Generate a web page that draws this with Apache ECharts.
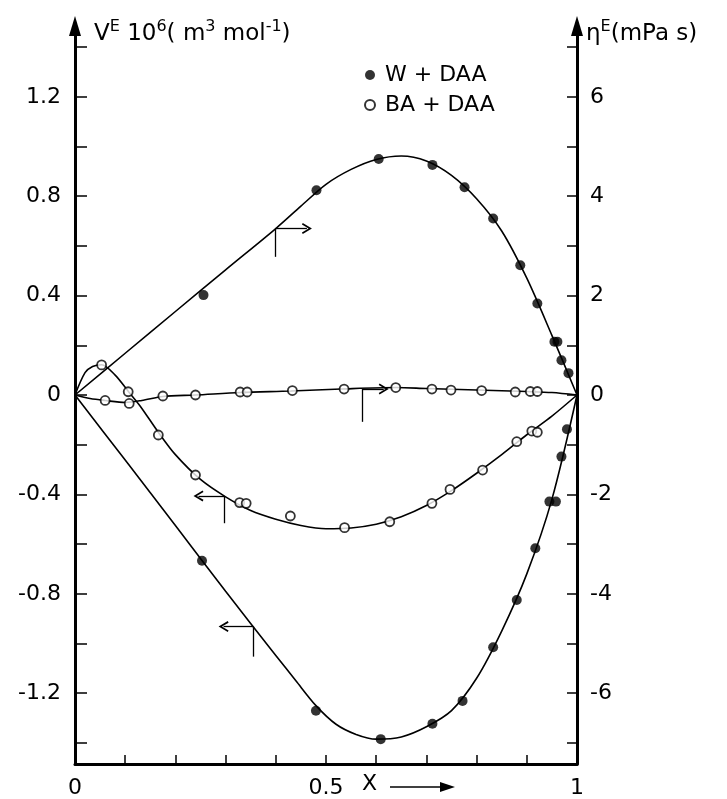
<!DOCTYPE html>
<html>
<head>
<meta charset="utf-8">
<script src="https://cdn.jsdelivr.net/npm/echarts@6/dist/echarts.min.js"></script>
<style>
html, body { margin: 0; padding: 0; background: #fff; }
#main { width: 727px; height: 799px; }
</style>
</head>
<body>
<div id="main"></div>
<script>
var dom = document.getElementById("main");
var myChart = echarts.init(dom);
var font = '"DejaVu Sans", "Liberation Sans", sans-serif';

// measured points [x, value] ; eta in mPa s (right axis), V in 10^6 m3/mol (left axis)
var wEtaPts = [[0.256, 2.01], [0.481, 4.12], [0.605, 4.75], [0.712, 4.63], [0.776, 4.18],
	[0.833, 3.55], [0.887, 2.61], [0.921, 1.84], [0.955, 1.07], [0.961, 1.07], [0.969, 0.70], [0.983, 0.44]];
var wVPts = [[0.253, -0.667], [0.48, -1.271], [0.609, -1.385], [0.712, -1.323], [0.772, -1.231],
	[0.833, -1.015], [0.88, -0.825], [0.917, -0.617], [0.945, -0.429], [0.958, -0.429], [0.969, -0.248], [0.98, -0.138]];
var baEtaPts = [[0.06, -0.11], [0.108, -0.17], [0.175, -0.02], [0.24, 0], [0.329, 0.06], [0.343, 0.06],
	[0.433, 0.09], [0.536, 0.12], [0.639, 0.15], [0.711, 0.12], [0.749, 0.10], [0.81, 0.09], [0.877, 0.06], [0.907, 0.07], [0.921, 0.07]];
var baVPts = [[0.053, 0.121], [0.106, 0.013], [0.166, -0.161], [0.24, -0.322], [0.328, -0.433], [0.341, -0.436],
	[0.429, -0.487], [0.537, -0.534], [0.627, -0.51], [0.711, -0.436], [0.747, -0.38], [0.812, -0.302], [0.88, -0.188], [0.91, -0.145], [0.921, -0.15]];

// fitted curves
var wEtaCurve = [[0, 0], [0.1, 0.84], [0.2, 1.68], [0.3, 2.52], [0.4, 3.35], [0.45, 3.8], [0.5, 4.24],
	[0.55, 4.54], [0.6, 4.74], [0.65, 4.81], [0.7, 4.71], [0.75, 4.42], [0.8, 3.95], [0.85, 3.3], [0.9, 2.35],
	[0.95, 1.2], [1, 0]];
var wVCurve = [[0, 0], [0.1, -0.262], [0.2, -0.525], [0.3, -0.79], [0.4, -1.048], [0.44, -1.15], [0.48, -1.25],
	[0.52, -1.325], [0.56, -1.366], [0.6, -1.385], [0.65, -1.376], [0.7, -1.335], [0.75, -1.27], [0.8, -1.14],
	[0.85, -0.95], [0.9, -0.72], [0.95, -0.42], [1, 0]];
var baEtaCurve = [[0, 0], [0.03, -0.07], [0.06, -0.11], [0.1, -0.15], [0.133, -0.11], [0.175, -0.03], [0.24, 0],
	[0.33, 0.05], [0.43, 0.08], [0.53, 0.12], [0.64, 0.15], [0.7, 0.13], [0.8, 0.1], [0.9, 0.07], [0.95, 0.05], [1, 0]];
var baVCurve = [[0, 0], [0.02, 0.09], [0.035, 0.115], [0.053, 0.122], [0.08, 0.08], [0.106, 0.015], [0.13, -0.045],
	[0.166, -0.15], [0.2, -0.24], [0.25, -0.34], [0.3, -0.41], [0.35, -0.465], [0.4, -0.5], [0.45, -0.525],
	[0.5, -0.538], [0.55, -0.535], [0.6, -0.52], [0.65, -0.49], [0.7, -0.445], [0.75, -0.385], [0.8, -0.315],
	[0.85, -0.24], [0.9, -0.16], [0.95, -0.085], [1, 0]];

// axis ticks
var xTicks = [0, 0.1, 0.2, 0.3, 0.4, 0.5, 0.6, 0.7, 0.8, 0.9, 1];
var xLabels = [0, 0.5, 1];
var vTicks = [-1.4, -1.2, -1, -0.8, -0.6, -0.4, -0.2, 0, 0.2, 0.4, 0.6, 0.8, 1, 1.2, 1.4];
var vLabels = [-1.2, -0.8, -0.4, 0, 0.4, 0.8, 1.2];
var etaTicks = [-7, -6, -5, -4, -3, -2, -1, 0, 1, 2, 3, 4, 5, 6, 7];
var etaLabels = [-6, -4, -2, 0, 2, 4, 6];

// axis indicator marks: [corner, arrow end, foot]
var wEtaMark = [[0.399, 3.35], [0.462, 3.35], [0.399, 2.78]];
var wVMark = [[0.355, -0.932], [0.296, -0.932], [0.355, -1.053]];
var baEtaMark = [[0.572, 0.12], [0.615, 0.12], [0.572, -0.54]];
var baVMark = [[0.297, -0.406], [0.246, -0.406], [0.297, -0.516]];

var chevron = 'path://M0,11 L6,0 L12,11 L10.3,12 L6,4 L1.7,12 Z';
function marker(m) {
	return {
		silent: true,
		animation: false,
		label: { show: false },
		lineStyle: { color: '#000', width: 1.3, type: 'solid' },
		symbolSize: [11, 10],
		data: [
			[{ coord: m[0], symbol: 'none' }, { coord: m[1], symbol: chevron }],
			[{ coord: m[0], symbol: 'none' }, { coord: m[2], symbol: 'none' }]
		]
	};
}

function curve(name, data, axis, mark) {
	return {
		name: name,
		type: 'line',
		yAxisIndex: axis,
		data: data,
		smooth: 0.3,
		showSymbol: false,
		silent: true,
		lineStyle: { color: '#000', width: 1.6 },
		markLine: marker(mark),
		z: 2
	};
}

function points(name, data, axis, filled) {
	return {
		name: name,
		type: 'scatter',
		yAxisIndex: axis,
		data: data,
		symbol: 'circle',
		symbolSize: filled ? 10 : 9,
		itemStyle: filled ? { color: '#000' } : { color: '#fff', borderColor: '#000', borderWidth: 1.8 },
		z: 3
	};
}

var axisCommon = {
	type: 'value',
	splitLine: { show: false },
	axisLine: { show: true, onZero: false, lineStyle: { color: '#000', width: 3 } },
	axisTick: { show: true, inside: true, length: 11, lineStyle: { color: '#000', width: 1.5 } },
	axisLabel: { color: '#000', fontSize: 22, fontFamily: font }
};

var rich = {
	b: { fontSize: 23, fontFamily: font, fill: '#000' },
	s: { fontSize: 16, fontFamily: font, fill: '#000', padding: [0, 0, 14, 0] }
};

option = {
	backgroundColor: '#fff',
	animation: false,
	grid: { left: 75, right: 150, top: 26, bottom: 35, containLabel: false },
	legend: {
		data: ['W+DAA', 'BA+DAA'],
		formatter: function (name) { return name.replace('+', ' + '); },
		orient: 'vertical',
		left: 364,
		top: 64,
		padding: 0,
		itemWidth: 10,
		itemHeight: 10,
		itemGap: 8,
		icon: 'circle',
		textStyle: { color: '#000', fontSize: 22, fontFamily: font, lineHeight: 22, padding: [0, 0, 0, 5] }
	},
	xAxis: echarts.util.merge({
		min: 0,
		max: 1,
		axisTick: { length: 9, customValues: xTicks },
		axisLabel: {
			customValues: xLabels, margin: 13,
			formatter: function (v) { return String(v); }
		}
	}, axisCommon),
	yAxis: [
		echarts.util.merge({
			position: 'left',
			min: -1.485,
			max: 1.485,
			axisLine: { symbol: ['none', 'triangle'], symbolSize: [12, 20] },
			axisTick: { length: 12, customValues: vTicks },
			axisLabel: {
				customValues: vLabels, margin: 14,
				formatter: function (v) { return v === 0 ? '0' : v.toFixed(1); }
			}
		}, axisCommon),
		echarts.util.merge({
			position: 'right',
			min: -7.425,
			max: 7.425,
			axisLine: { symbol: ['none', 'triangle'], symbolSize: [12, 20] },
			axisTick: { length: 10, customValues: etaTicks },
			axisLabel: { customValues: etaLabels, margin: 13 }
		}, axisCommon)
	],
	graphic: [
		{
			type: 'text', left: 94, top: 19,
			style: {
				text: '{b|V}{s|E}{b| 10}{s|6}{b|( m}{s|3}{b| mol}{s|-1}{b|)}',
				fill: '#000',
				rich: rich
			}
		},
		{
			type: 'text', left: 586, top: 19,
			style: {
				text: '{b|η}{s|E}{b|(mPa s)}',
				fill: '#000',
				rich: rich
			}
		},
		{
			type: 'text', left: 362, top: 773,
			style: { text: 'X', fill: '#000', fontSize: 22, fontFamily: font }
		},
		{
			type: 'line', shape: { x1: 390, y1: 787, x2: 442, y2: 787 },
			style: { stroke: '#000', lineWidth: 1.5 }
		},
		{
			type: 'polygon', shape: { points: [[440, 782], [455, 787], [440, 792]] },
			style: { fill: '#000' }
		}
	],
	series: [
		curve('wEta', wEtaCurve, 1, wEtaMark),
		curve('wV', wVCurve, 0, wVMark),
		curve('baEta', baEtaCurve, 1, baEtaMark),
		curve('baV', baVCurve, 0, baVMark),
		points('W+DAA', wEtaPts, 1, true),
		points('W+DAA', wVPts, 0, true),
		points('BA+DAA', baEtaPts, 1, false),
		points('BA+DAA', baVPts, 0, false)
	]
};
if (option && typeof option === "object") {
	myChart.setOption(option, true);
}
</script>
</body>
</html>
